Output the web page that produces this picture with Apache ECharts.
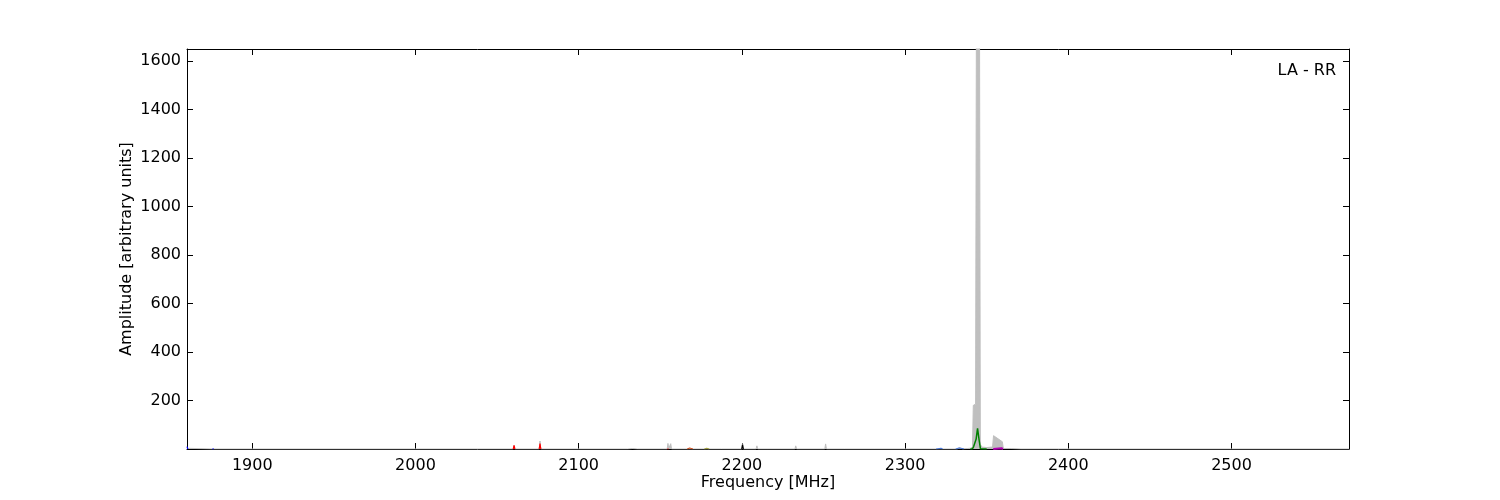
<!DOCTYPE html>
<html>
<head>
<meta charset="utf-8">
<script src="https://cdn.jsdelivr.net/npm/echarts@6/dist/echarts.min.js"></script>
<style>html,body{margin:0;padding:0;background:#fff}#c{width:1500px;height:500px}</style>
</head>
<body>
<div id="c"></div>
<script>
// ---- data ----
var xTicks = [1900, 2000, 2100, 2200, 2300, 2400, 2500];
var yTicks = [200, 400, 600, 800, 1000, 1200, 1400, 1600];

// total spectrum (grey envelope)
var grayFreq = [1860, 1861, 1875.5, 1876, 1876.5, 2059.9, 2060.4, 2060.9, 2075.8, 2076.3, 2076.8, 2130, 2133, 2136,
  2154.2, 2154.7, 2155.2, 2156.4, 2156.9, 2167, 2168, 2170, 2177.5, 2178.5, 2180, 2187.5, 2188, 2188.5,
  2200, 2200.4, 2200.9, 2208.7, 2209.2, 2209.7, 2224, 2224.5, 2225, 2232.5, 2233, 2233.5, 2250.8, 2251.3, 2251.8,
  2263, 2263.5, 2264, 2279, 2280, 2281, 2320, 2321, 2323, 2332, 2333.5, 2335, 2338, 2340, 2341.3,
  2341.8, 2343.2, 2343.7, 2345.6, 2346.1, 2347, 2350, 2353.6, 2354.2, 2357, 2359.6, 2360.2, 2365, 2371, 2371.5, 2372,
  2376.5, 2377, 2377.5, 2385, 2572];
var grayAmp = [3, 0, 0, 3, 0, 0, 15, 0, 0, 33, 0, 0, 2, 0,
  0, 23, 2, 22, 0, 0, 5, 0, 0, 4, 0, 0, 5, 0,
  0, 22, 0, 0, 13, 0, 0, 5, 0, 0, 13, 0, 0, 21, 0,
  0, 2, 0, 0, 3, 0, 0, 3, 0, 0, 6, 1, 2, 3, 8,
  180, 185, 1800, 1800, 20, 8, 6, 8, 55, 42, 30, 2, 2, 0, 3, 0,
  0, 5, 0, 0, 0];

// green trace
var greenFreq = [2340, 2341.3, 2342, 2342.8, 2343.5, 2344.4, 2344.9, 2345.5, 2346.2, 2350];
var greenAmp  = [0, 1, 10, 12, 40, 85, 88, 30, 1, 0];

// red spikes (null = gap)
var redFreq = [2059.9, 2060.4, 2060.9, 2061, 2075.8, 2076.3, 2076.8, 2077, 2154.3, 2154.7, 2155.1];
var redAmp  = [0, 15, 0, null, 0, 22, 0, null, 0, 4, 0];

// dark blue spikes
var blueFreq = [1860, 1860.5, 1861, 1875.5, 1876, 1876.5];
var blueAmp  = [10, 0, null, 0, 3, 0];

// light blue spikes
var lblueFreq = [2319, 2320, 2322, 2323, 2324, 2331, 2333, 2335, 2336];
var lblueAmp  = [0, 2, 3, 0, null, 0, 4, 2, 0];

// magenta trace
var magFreq = [2354, 2355, 2359, 2360];
var magAmp  = [0, 3, 3, 0];

// orange, olive and black spikes
var orangeFreq = [2166.5, 2168, 2170];
var orangeAmp  = [0, 4, 0];
var oliveFreq = [2177, 2178.5, 2180];
var oliveAmp  = [0, 3, 0];
var blackFreq = [2199.9, 2200.4, 2200.9];
var blackAmp  = [0, 18, 0];

function pairs(f, a) { return f.map(function (v, i) { return [v, a[i] === null ? '-' : a[i]]; }); }

var font = 'DejaVu Sans';
function lineSeries(f, a, color, extra) {
  var s = {
    type: 'line', data: pairs(f, a), showSymbol: false, symbol: 'none', connectNulls: false,
    lineStyle: { color: color, width: 1.2 }, itemStyle: { color: color }, clip: true, animation: false
  };
  if (extra) for (var k in extra) s[k] = extra[k];
  return s;
}
function plain(v) { return String(v); }

var axisCommon = {
  axisLine: { show: true, onZero: false, lineStyle: { color: '#000', width: 1 } },
  splitLine: { show: false }
};

var option = {
  animation: false,
  backgroundColor: '#fff',
  title: {
    text: 'LA - RR', right: 164, top: 63, padding: 0,
    textStyle: { fontFamily: font, fontSize: 16, fontWeight: 'normal', color: '#000' }
  },
  grid: { left: 187, right: 151, top: 49, bottom: 51, show: false },
  xAxis: [
    Object.assign({}, axisCommon, {
      type: 'value', min: 1860, max: 2572, position: 'bottom',
      name: 'Frequency [MHz]', nameLocation: 'middle', nameGap: 26, nameMoveOverlap: false,
      nameTextStyle: { fontFamily: font, fontSize: 16, color: '#000' },
      axisTick: { show: true, inside: true, length: 6, lineStyle: { color: '#000' }, customValues: xTicks },
      axisLabel: { show: true, margin: 9, fontFamily: font, fontSize: 16, color: '#000', customValues: xTicks, formatter: plain }
    }),
    Object.assign({}, axisCommon, {
      type: 'value', min: 1860, max: 2572, position: 'top',
      axisTick: { show: true, inside: true, length: 6, lineStyle: { color: '#000' }, customValues: xTicks },
      axisLabel: { show: false }
    })
  ],
  yAxis: [
    Object.assign({}, axisCommon, {
      type: 'value', min: 0, max: 1650, position: 'left',
      name: 'Amplitude [arbitrary units]', nameLocation: 'middle', nameGap: 52, nameMoveOverlap: false,
      nameTextStyle: { fontFamily: font, fontSize: 16, color: '#000' },
      axisTick: { show: true, inside: true, length: 6, lineStyle: { color: '#000' }, customValues: yTicks },
      axisLabel: { show: true, margin: 6, fontFamily: font, fontSize: 16, color: '#000', customValues: yTicks, formatter: plain }
    }),
    Object.assign({}, axisCommon, {
      type: 'value', min: 0, max: 1650, position: 'right',
      axisTick: { show: true, inside: true, length: 6, lineStyle: { color: '#000' }, customValues: yTicks },
      axisLabel: { show: false }
    })
  ],
  series: [
    lineSeries(grayFreq, grayAmp, '#bfbfbf', { areaStyle: { color: '#bfbfbf', opacity: 1 }, lineStyle: { color: '#bfbfbf', width: 1 } }),
    lineSeries(redFreq, redAmp, '#ff0000'),
    lineSeries(blueFreq, blueAmp, '#0000ff'),
    lineSeries(lblueFreq, lblueAmp, '#4a78d8'),
    lineSeries(orangeFreq, orangeAmp, '#d05020'),
    lineSeries(oliveFreq, oliveAmp, '#a0a040'),
    lineSeries(blackFreq, blackAmp, '#000000'),
    lineSeries(magFreq, magAmp, '#b000b0', { lineStyle: { color: '#b000b0', width: 2 } }),
    lineSeries(greenFreq, greenAmp, '#008000', { lineStyle: { color: '#008000', width: 1.5 } })
  ]
};

var chart = echarts.init(document.getElementById('c'), null, { renderer: 'canvas' });
chart.setOption(option);
</script>
</body>
</html>
